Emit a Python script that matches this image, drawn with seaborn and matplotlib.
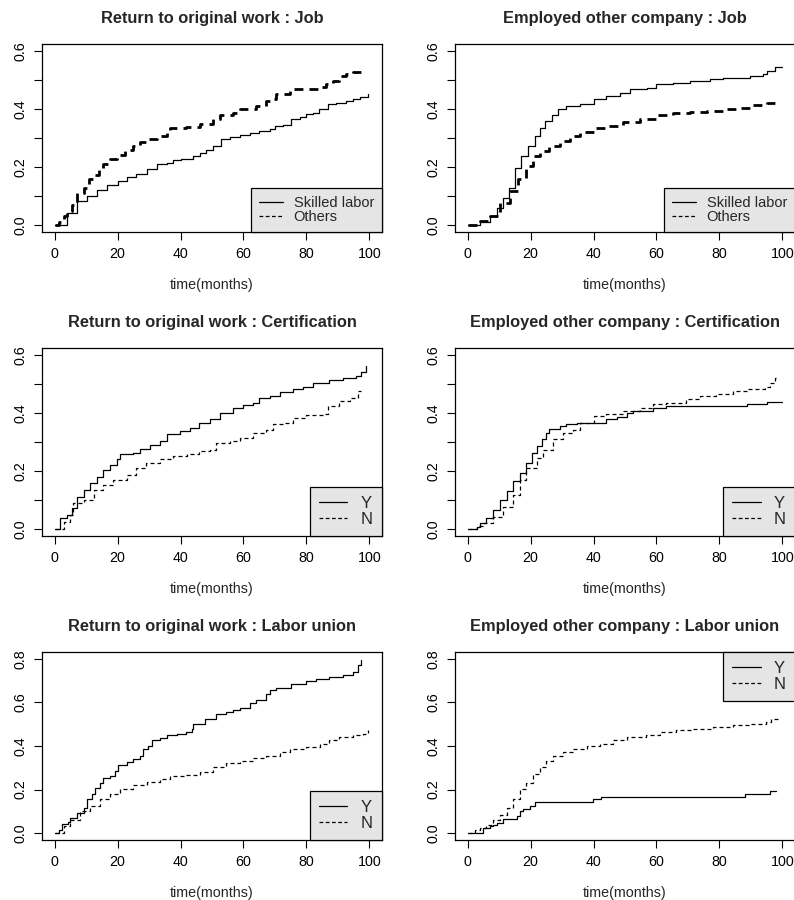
import matplotlib
matplotlib.use("Agg")
import matplotlib.pyplot as plt
from matplotlib.lines import Line2D
import seaborn as sns
import pandas as pd

# cumulative incidence (time in months, probability)
ret_job_skilled_t = [0, 4, 7, 10.2, 13.4, 16.6, 20, 22.9, 26, 29.2, 32.4, 35.6, 37.7, 40, 44, 46.1, 48, 50.4, 53, 55.6, 59, 62, 65, 68.3, 70, 72.5, 75, 77.8, 80, 82, 84, 87, 89.4, 92.6, 94.7, 97, 99.5]
ret_job_skilled_y = [0, 0.041, 0.082, 0.099, 0.122, 0.137, 0.151, 0.165, 0.177, 0.194, 0.211, 0.214, 0.224, 0.228, 0.237, 0.249, 0.26, 0.272, 0.295, 0.303, 0.312, 0.318, 0.324, 0.332, 0.341, 0.346, 0.364, 0.373, 0.384, 0.387, 0.40, 0.416, 0.419, 0.427, 0.433, 0.44, 0.453]
ret_job_others_t = [0, 1.3, 2.9, 3.9, 5.5, 7.1, 9.2, 10.8, 12.4, 14, 15.5, 17.6, 19.7, 22.4, 25, 27.1, 29.3, 32.4, 35.6, 36.6, 41.9, 46.1, 50.4, 52.5, 56.7, 58.8, 64, 67.3, 68.3, 70.4, 74.7, 84.2, 86.3, 88.4, 90.5, 92.6, 94.7, 97.4]
ret_job_others_y = [0, 0.009, 0.03, 0.047, 0.07, 0.11, 0.128, 0.157, 0.174, 0.197, 0.209, 0.228, 0.243, 0.26, 0.272, 0.286, 0.295, 0.306, 0.324, 0.335, 0.338, 0.347, 0.364, 0.378, 0.387, 0.399, 0.412, 0.427, 0.433, 0.453, 0.468, 0.476, 0.485, 0.497, 0.512, 0.52, 0.528, 0.545]

emp_job_skilled_t = [0, 2, 4, 7, 9.2, 11.3, 13, 15, 17, 19.3, 21.4, 23, 24.6, 26.7, 28.8, 31.4, 35.7, 40, 44, 48.4, 51.5, 57, 60, 65.3, 70.6, 77, 81, 89.6, 93.9, 95, 97.6, 100]
emp_job_skilled_y = [0, 0, 0.009, 0.03, 0.059, 0.093, 0.128, 0.197, 0.237, 0.272, 0.306, 0.335, 0.358, 0.381, 0.40, 0.41, 0.418, 0.433, 0.445, 0.454, 0.468, 0.474, 0.485, 0.49, 0.497, 0.502, 0.508, 0.514, 0.52, 0.531, 0.546, 0.546]
emp_job_others_t = [0, 2, 4, 7, 10.3, 13.4, 16, 18.7, 20.8, 23, 26, 29.3, 32.5, 35.7, 40, 44, 49.4, 54.7, 60, 65.3, 70.6, 75.9, 82, 86.5, 89.6, 95, 97.6]
emp_job_others_y = [0, 0, 0.013, 0.03, 0.076, 0.116, 0.157, 0.203, 0.237, 0.255, 0.272, 0.289, 0.306, 0.32, 0.335, 0.343, 0.355, 0.366, 0.378, 0.385, 0.389, 0.393, 0.399, 0.404, 0.414, 0.422, 0.427]

ret_cert_y_t = [0, 1.8, 3.9, 5.5, 7, 9.2, 11.3, 13.4, 15.5, 17.6, 19.7, 20.8, 25, 27, 30.3, 33.5, 35.6, 39.8, 43, 46, 49.3, 52.5, 56.7, 60, 63, 65, 68.3, 71.5, 75.7, 78.9, 82, 87.3, 91.5, 95.8, 97.4, 99]
ret_cert_y_y = [0, 0.037, 0.049, 0.072, 0.112, 0.135, 0.158, 0.181, 0.205, 0.222, 0.242, 0.257, 0.262, 0.276, 0.288, 0.303, 0.326, 0.338, 0.349, 0.366, 0.38, 0.401, 0.418, 0.427, 0.436, 0.45, 0.457, 0.471, 0.482, 0.491, 0.502, 0.513, 0.52, 0.528, 0.542, 0.563]
ret_cert_n_t = [0, 2.9, 5, 6, 9.2, 12.4, 15.5, 18.7, 22.9, 26, 29, 33.5, 37.7, 42, 46, 49.3, 51.4, 55.6, 58.8, 63, 67.3, 69.4, 72.5, 75.7, 79.9, 85.2, 86.8, 90.5, 93.7, 96.3, 97.4]
ret_cert_n_y = [0, 0.025, 0.049, 0.089, 0.10, 0.135, 0.153, 0.17, 0.187, 0.21, 0.228, 0.242, 0.251, 0.257, 0.268, 0.274, 0.295, 0.303, 0.314, 0.332, 0.343, 0.361, 0.366, 0.384, 0.392, 0.395, 0.424, 0.442, 0.453, 0.476, 0.476]

emp_cert_y_t = [0, 2, 2.9, 3.9, 6, 8.1, 10.3, 12.4, 14.5, 16.6, 18.7, 20.3, 21.9, 23.5, 25, 26, 29.3, 31.4, 34.6, 42, 44, 47.3, 50.5, 52.6, 59, 63, 88.6, 95, 100]
emp_cert_y_y = [0, 0, 0.008, 0.02, 0.037, 0.066, 0.10, 0.13, 0.164, 0.193, 0.228, 0.262, 0.286, 0.309, 0.332, 0.346, 0.355, 0.361, 0.366, 0.366, 0.378, 0.387, 0.401, 0.407, 0.418, 0.424, 0.43, 0.438, 0.438]
emp_cert_n_t = [0, 2, 2.9, 5, 8.1, 11.3, 14.5, 16.6, 18.7, 21.9, 24, 27.2, 30.4, 33.5, 35.7, 40, 44, 49.4, 54.7, 59, 63, 69.5, 73.8, 79, 84.3, 88.6, 94.4, 96, 97.6, 98.6]
emp_cert_n_y = [0, 0, 0.01, 0.022, 0.043, 0.077, 0.118, 0.17, 0.21, 0.245, 0.274, 0.309, 0.332, 0.343, 0.366, 0.39, 0.395, 0.407, 0.418, 0.43, 0.436, 0.447, 0.459, 0.467, 0.476, 0.482, 0.488, 0.505, 0.52, 0.52]

ret_union_y_t = [0, 1.3, 2.3, 4.4, 5, 7, 9.2, 10.2, 11.8, 12.9, 14.5, 15.5, 17.6, 19.2, 20.3, 22.9, 25, 27.1, 28.2, 29.8, 30.8, 33.5, 35.6, 38.8, 41.9, 43.5, 44, 47.7, 51.4, 54.6, 56.7, 58.8, 62, 64.1, 67.3, 68.3, 70.4, 75.2, 79.9, 83.1, 87.3, 91.6, 94.7, 96.3, 97.4]
ret_union_y_y = [0, 0.015, 0.043, 0.05, 0.07, 0.093, 0.116, 0.158, 0.178, 0.209, 0.232, 0.252, 0.263, 0.286, 0.314, 0.328, 0.341, 0.356, 0.384, 0.402, 0.426, 0.437, 0.449, 0.457, 0.464, 0.48, 0.503, 0.526, 0.545, 0.557, 0.565, 0.576, 0.596, 0.611, 0.638, 0.658, 0.666, 0.684, 0.697, 0.707, 0.715, 0.728, 0.74, 0.774, 0.793]
ret_union_n_t = [0, 2.9, 5, 8.1, 11.3, 14.5, 17.6, 20.8, 25, 29.3, 33.5, 36.6, 41.9, 46.1, 50.4, 54.6, 58.8, 63, 67.3, 71.5, 74.7, 79.9, 84.2, 87.3, 90.5, 94.7, 97.9, 99.5]
ret_union_n_y = [0, 0.031, 0.062, 0.10, 0.124, 0.155, 0.178, 0.201, 0.22, 0.235, 0.248, 0.263, 0.268, 0.279, 0.302, 0.322, 0.333, 0.344, 0.356, 0.372, 0.387, 0.395, 0.407, 0.426, 0.441, 0.449, 0.457, 0.475]

emp_union_y_t = [0, 5, 7.1, 8.1, 9.2, 11.3, 15.6, 16.6, 17.7, 19.8, 21.4, 39.7, 42.5, 88, 96, 98]
emp_union_y_y = [0, 0.023, 0.031, 0.039, 0.046, 0.065, 0.08, 0.10, 0.111, 0.124, 0.142, 0.158, 0.166, 0.178, 0.193, 0.193]
emp_union_n_t = [0, 2.3, 3.9, 6, 8.1, 10.3, 12.4, 14.5, 16.6, 18.7, 20.8, 23, 25, 27.2, 30.4, 33.5, 37.8, 42, 46.2, 50.5, 56.8, 61, 66.3, 71.6, 78, 84.3, 89.6, 94.9, 96.5, 99]
emp_union_n_y = [0, 0.015, 0.023, 0.039, 0.062, 0.085, 0.116, 0.155, 0.204, 0.232, 0.271, 0.302, 0.333, 0.353, 0.371, 0.387, 0.398, 0.41, 0.426, 0.441, 0.452, 0.464, 0.472, 0.48, 0.488, 0.495, 0.503, 0.511, 0.523, 0.523]

titles = ["Return to original work : Job", "Employed other company : Job",
          "Return to original work : Certification", "Employed other company : Certification",
          "Return to original work : Labor union", "Employed other company : Labor union"]
job_labels = ["Skilled labor", "Others"]
yn_labels = ["Y", "N"]
x_ticks = [0, 20, 40, 60, 80, 100]

panels = [
    (ret_job_skilled_t, ret_job_skilled_y, ret_job_others_t, ret_job_others_y),
    (emp_job_skilled_t, emp_job_skilled_y, emp_job_others_t, emp_job_others_y),
    (ret_cert_y_t, ret_cert_y_y, ret_cert_n_t, ret_cert_n_y),
    (emp_cert_y_t, emp_cert_y_y, emp_cert_n_t, emp_cert_n_y),
    (ret_union_y_t, ret_union_y_y, ret_union_n_t, ret_union_n_y),
    (emp_union_y_t, emp_union_y_y, emp_union_n_t, emp_union_n_y),
]

sns.set_style("ticks")
plt.rcParams['font.family'] = ['Liberation Sans', 'DejaVu Sans']
plt.rcParams['axes.linewidth'] = 0.9

fig = plt.figure(figsize=(7.94, 9.0), dpi=100)
W, H = 794.0, 900.0
col_left = [42, 455]
row_top = [44, 348, 652]
ax_w, ax_h = 340, 188
fs_axis = 10.3

for k, (t1, y1, t2, y2) in enumerate(panels):
    r, c = divmod(k, 2)
    ax = fig.add_axes([col_left[c] / W, 1 - (row_top[r] + ax_h) / H, ax_w / W, ax_h / H])
    top_row = r == 0
    d1 = pd.DataFrame({"time": t1, "p": y1})
    d2 = pd.DataFrame({"time": t2, "p": y2})
    sns.lineplot(data=d1, x="time", y="p", ax=ax, color="black", lw=0.9,
                 drawstyle="steps-post", estimator=None)
    if top_row:
        sns.lineplot(data=d2, x="time", y="p", ax=ax, color="black", lw=2.0,
                     drawstyle="steps-post", estimator=None, linestyle=(0, (3.2, 2.2)))
    else:
        sns.lineplot(data=d2, x="time", y="p", ax=ax, color="black", lw=0.9,
                     drawstyle="steps-post", estimator=None, linestyle=(0, (3.2, 2.4)))

    ymax = 0.6 if r < 2 else 0.8
    ax.set_xlim(-4, 104)
    ax.set_ylim(-0.04 * ymax, 1.04 * ymax)
    ax.set_xticks(x_ticks)
    if r < 2:
        yt = [0.0, 0.1, 0.2, 0.3, 0.4, 0.5, 0.6]
        ax.set_yticks(yt)
        ax.set_yticklabels(["%.1f" % v if i % 2 == 0 else "" for i, v in enumerate(yt)])
    else:
        yt = [0.0, 0.2, 0.4, 0.6, 0.8]
        ax.set_yticks(yt)
        ax.set_yticklabels(["%.1f" % v for v in yt])
    ax.tick_params(axis="both", direction="out", length=5.5, width=0.8,
                   labelsize=fs_axis, colors="black")
    ax.tick_params(axis="x", pad=5.5)
    ax.tick_params(axis="y", pad=5)
    for lab in ax.get_yticklabels():
        lab.set_rotation(90)
        lab.set_va("center")
    ax.set_xlabel("time(months)", fontsize=fs_axis, labelpad=12)
    ax.set_ylabel("")
    ax.set_title(titles[k], fontsize=11.8, fontweight="bold", pad=15)
    for s in ax.spines.values():
        s.set_visible(True)
        s.set_color("black")

    if top_row:
        labels = job_labels
        fs, hl, tp, ls = 10.5, 1.7, 0.7, 0.0
    else:
        labels = yn_labels
        fs, hl, tp, ls = 12, 1.7, 0.8, 0.05
    handles = [Line2D([], [], color="black", lw=0.9),
               Line2D([], [], color="black", lw=0.9, linestyle=(0, (3, 2)))]
    loc = "upper right" if k == 5 else "lower right"
    leg = ax.legend(handles, labels, loc=loc, fontsize=fs, handlelength=hl,
                    handletextpad=tp, borderaxespad=0, fancybox=False,
                    framealpha=1, facecolor="#E5E5E5", edgecolor="black",
                    labelspacing=ls, borderpad=0.55)
    leg.get_frame().set_linewidth(0.9)

fig.savefig("out.png", dpi=100)
